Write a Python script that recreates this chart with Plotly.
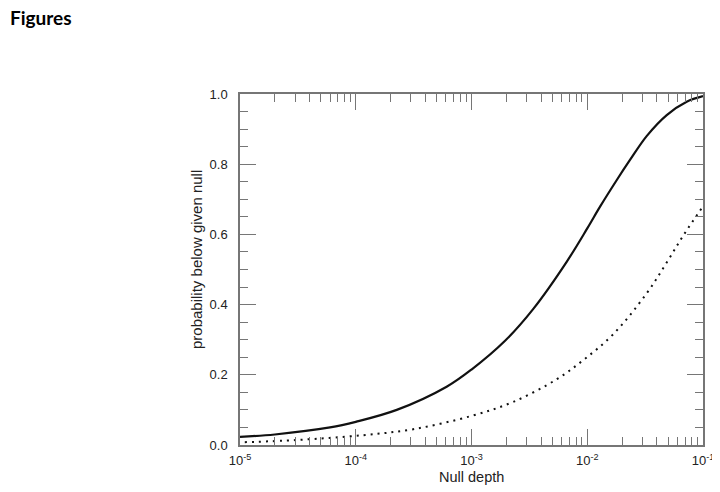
"""Cumulative probability vs null depth, two curves on a log axis."""

import plotly.graph_objects as go

# values
solid_depth = [1e-5, 2e-5, 6e-5, 1e-4, 2.26e-4, 6.1e-4, 1e-3, 1.95e-3, 3.42e-3, 6.64e-3,
               1e-2, 1.29e-2, 1.8e-2, 2.34e-2, 3.26e-2, 4.86e-2, 7.23e-2, 1e-1]
solid_prob = [0.023, 0.030, 0.050, 0.066, 0.100, 0.166, 0.215, 0.297, 0.388, 0.522,
              0.617, 0.679, 0.755, 0.812, 0.880, 0.940, 0.978, 0.994]

dotted_depth = [1.1e-5, 3e-5, 1.16e-4, 3.14e-4, 1e-3, 2.3e-3, 5.43e-3, 9.25e-3,
                1.68e-2, 3.26e-2, 4.86e-2, 6.76e-2, 1e-1]
dotted_prob = [0.008, 0.014, 0.028, 0.045, 0.083, 0.123, 0.187, 0.242,
               0.316, 0.432, 0.520, 0.597, 0.680]

x_tickvals = [1e-5, 1e-4, 1e-3, 1e-2, 1e-1]
x_ticktext = ["10<sup>-5</sup>", "10<sup>-4</sup>", "10<sup>-3</sup>", "10<sup>-2</sup>", "10<sup>-1</sup>"]

x_title = "Null depth"
y_title = "probability below given null"
page_title = "Figures"

AXIS_COLOR = "#767676"
INK = "#111111"
SANS = "Liberation Sans, Arial, sans-serif"

fig = go.Figure()
fig.add_trace(
    go.Scatter(
        x=solid_depth, y=solid_prob, mode="lines",
        line=dict(color=INK, width=2.2, shape="spline", smoothing=1.0),
        showlegend=False,
    )
)
fig.add_trace(
    go.Scatter(
        x=dotted_depth, y=dotted_prob, mode="lines",
        line=dict(color=INK, width=2, dash="2px,5px", shape="spline", smoothing=1.0),
        showlegend=False,
    )
)

axis_common = dict(
    showline=True, linecolor=AXIS_COLOR, linewidth=1.5, mirror="ticks",
    ticks="inside", ticklen=16, tickwidth=1.2, tickcolor=AXIS_COLOR,
    showgrid=False, zeroline=False, automargin=False,
    tickfont=dict(family=SANS, size=13, color="#222"),
)

fig.update_xaxes(
    type="log", range=[-5, -1], tickvals=x_tickvals, ticktext=x_ticktext,
    minor=dict(dtick="D1", ticks="inside", ticklen=8, tickwidth=1.2, tickcolor=AXIS_COLOR, showgrid=False),
    ticklabelstandoff=3,
    **axis_common,
)
fig.update_yaxes(
    range=[0, 1], dtick=0.2, tickformat=".1f",
    minor=dict(dtick=0.05, ticks="inside", ticklen=8, tickwidth=1.2, tickcolor=AXIS_COLOR, showgrid=False),
    ticklabelstandoff=8,
    **axis_common,
)

# axis titles placed where the reference has them
fig.add_annotation(
    text=x_title, xref="paper", yref="paper", x=0.5, y=-32 / 351,
    xanchor="center", yanchor="middle", showarrow=False,
    font=dict(family=SANS, size=14.5, color="#222"),
)
fig.add_annotation(
    text=y_title, xref="paper", yref="paper", x=-43 / 463, y=185 / 351,
    xanchor="center", yanchor="middle", textangle=-90, showarrow=False,
    font=dict(family=SANS, size=15, color="#222"),
)

# the page body adds an 8px offset, so margins are shifted to compensate
fig.update_layout(
    width=720, height=492,
    margin=dict(l=232, r=25, t=86, b=55),
    paper_bgcolor="white", plot_bgcolor="white",
    showlegend=False,
    title=dict(
        text="<b>" + page_title + "</b>", xref="container", yref="container",
        x=2 / 720, y=1 - 4 / 492, xanchor="left", yanchor="top",
        font=dict(family="Lato, Open Sans, sans-serif", size=19, color="#000"),
    ),
)

fig.write_html("out.html")
